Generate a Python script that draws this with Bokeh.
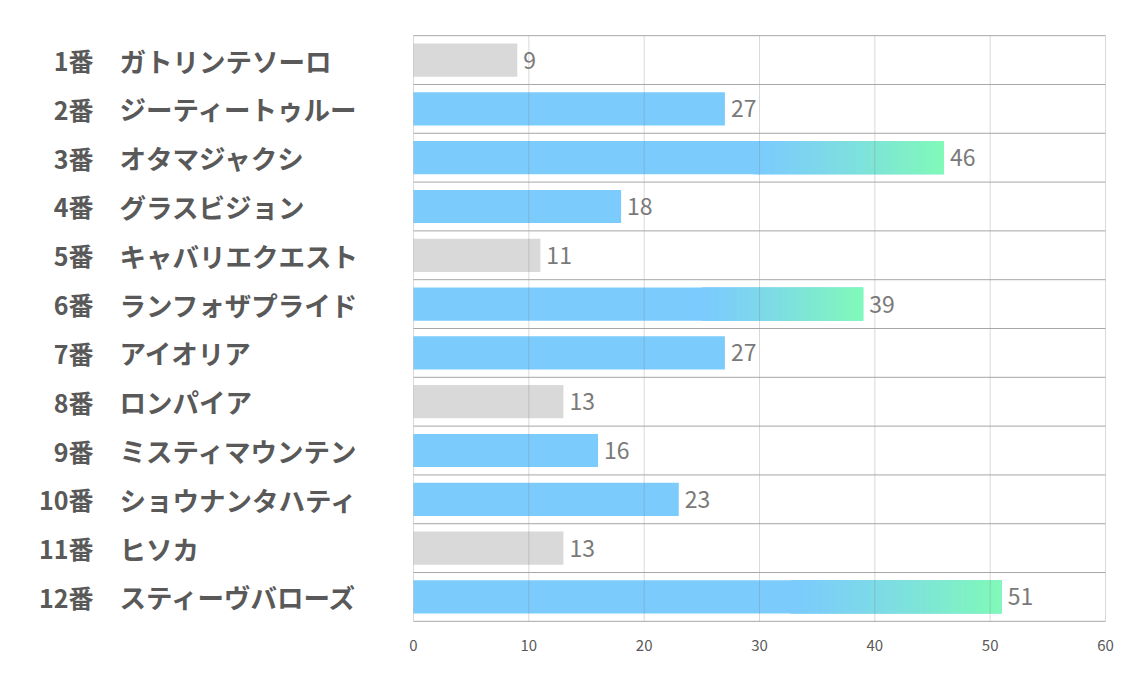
from bokeh.plotting import figure
from bokeh.models import ColumnDataSource, FixedTicker, Range1d
from bokeh.core.properties import value
from bokeh.embed import file_html
from bokeh.resources import INLINE

numbers = ["1番", "2番", "3番", "4番", "5番", "6番", "7番", "8番", "9番", "10番", "11番", "12番"]
names = ["ガトリンテソーロ", "ジーティートゥルー", "オタマジャクシ", "グラスビジョン", "キャバリエクエスト",
         "ランフォザプライド", "アイオリア", "ロンパイア", "ミスティマウンテン", "ショウナンタハティ",
         "ヒソカ", "スティーヴバローズ"]
values = [9, 27, 46, 18, 11, 39, 27, 13, 16, 23, 13, 51]
x_ticks = [0, 10, 20, 30, 40, 50, 60]

n = len(values)
BLUE = (123, 203, 253)
GREEN = (128, 250, 184)
GRAY = "#d9d9d9"
JP = "Noto Sans CJK JP"

order = sorted(range(n), key=lambda i: values[i])
gray_idx = set(order[:4])
grad_idx = set(order[-3:])

def hexc(c):
    return "#%02x%02x%02x" % tuple(int(round(v)) for v in c)

LEFT_PX = 400      # label area left of the value axis
PLOT_PX = 692      # width of the 0..60 area
xmin, xmax = x_ticks[0], x_ticks[-1]
x_start = -xmax * LEFT_PX / PLOT_PX
x_end = xmax + xmax * 1.0 / PLOT_PX

p = figure(frame_width=LEFT_PX + PLOT_PX + 1, frame_height=588,
           min_border_left=13, min_border_right=12, min_border_top=34, min_border_bottom=42,
           x_range=Range1d(x_start, x_end), y_range=Range1d(n - 0.5 + 0.002 * n, -0.5 - 0.002 * n),
           output_backend="svg", toolbar_location=None, outline_line_color=None)
p.background_fill_color = "white"
p.border_fill_color = "white"

p.xgrid.visible = False
p.ygrid.visible = False

ys = list(range(n))
colors = [GRAY if i in gray_idx else hexc(BLUE) for i in ys]
src = ColumnDataSource(dict(y=ys, v=values, c=colors, zero=[0] * n,
                            num=numbers, name=names, lbl=[str(v) for v in values]))
p.hbar(y="y", left="zero", right="v", height=0.68, fill_color="c", line_color=None, source=src)

# gradient overlays for the top bars
gl, gr, gy, gc = [], [], [], []
steps = 80
for i in sorted(grad_idx):
    v = values[i]
    start = 0.64 * v
    w = (v - start) / steps
    for k in range(steps):
        t = ((k + 0.5) / steps) ** 1.25
        c = tuple(BLUE[j] + (GREEN[j] - BLUE[j]) * t for j in range(3))
        gl.append(start + k * w)
        gr.append(min(v, start + (k + 1.8) * w))
        gy.append(i)
        gc.append(hexc(c))
p.hbar(y=gy, left=gl, right=gr, height=0.68, fill_color=gc, line_color=None)

# vertical grid lines (drawn over the bars, semi-transparent like the reference)
p.segment(x0=x_ticks, x1=x_ticks, y0=[-0.5] * len(x_ticks), y1=[n - 0.5] * len(x_ticks),
          line_color="#808080", line_alpha=0.3, line_width=1)
# row separators
seps = [i - 0.5 for i in range(n + 1)]
p.segment(x0=[xmin] * len(seps), x1=[xmax] * len(seps), y0=seps, y1=seps,
          line_color="#a6a6a6", line_width=1)

# axes
p.yaxis.visible = False
p.xaxis.ticker = FixedTicker(ticks=x_ticks)
p.xaxis.axis_line_color = None
p.xaxis.major_tick_line_color = None
p.xaxis.minor_tick_line_color = None
p.xaxis.major_tick_out = 0
p.xaxis.major_tick_in = 0
p.xaxis.major_label_standoff = 17
p.xaxis.major_label_text_font = JP
p.xaxis.major_label_text_font_size = "15px"
p.xaxis.major_label_text_color = "#595959"

# value labels
p.text(x="v", y="y", text="lbl", source=src, x_offset=6,
       text_baseline="middle", text_align="left",
       text_font=value(JP), text_font_size="23px", text_color="#7a7a7a")

# left labels
p.text(x="zero", y="y", text="num", source=src, x_offset=-320,
       text_baseline="middle", text_align="right",
       text_font=value(JP), text_font_style="bold", text_font_size="25px",
       text_color="#595959")
p.text(x="zero", y="y", text="name", source=src, x_offset=-294,
       text_baseline="middle", text_align="left",
       text_font=value(JP), text_font_style="bold", text_font_size="26.5px",
       text_color="#595959")

open("out.html", "w").write(file_html(p, INLINE))
